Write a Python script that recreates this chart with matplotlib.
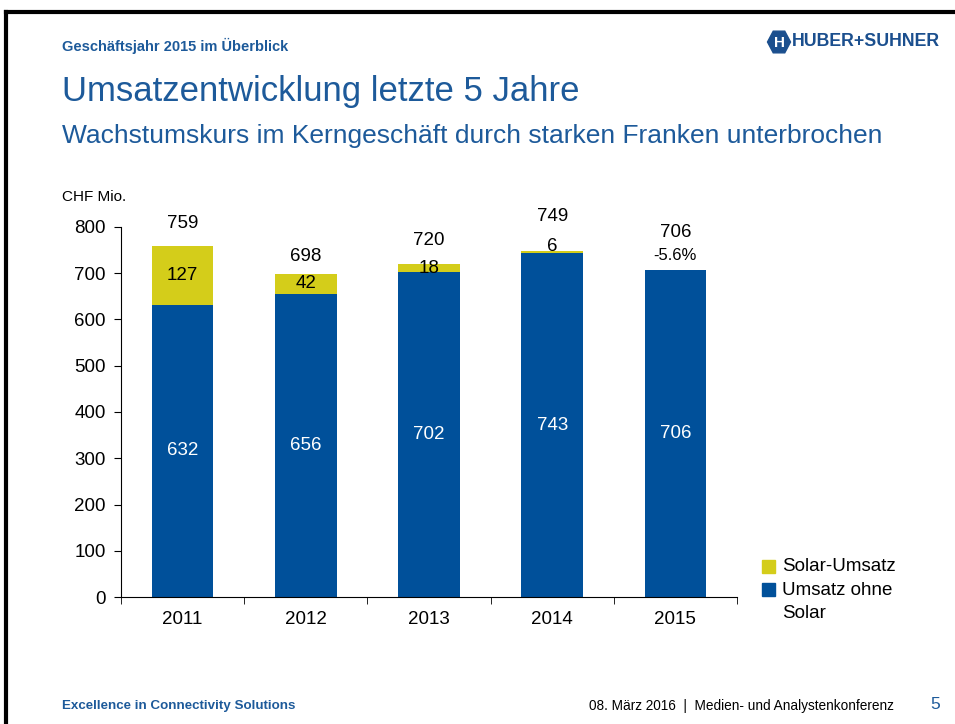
import matplotlib
matplotlib.use("Agg")
import matplotlib.pyplot as plt
from matplotlib.patches import Rectangle, Polygon
from matplotlib.lines import Line2D
import numpy as np

plt.rcParams['font.family'] = ['Liberation Sans', 'DejaVu Sans']

years = ["2011", "2012", "2013", "2014", "2015"]
core = [632, 656, 702, 743, 706]
solar = [127, 42, 18, 6, 0]
totals = [759, 698, 720, 749, 706]
change_2015 = "-5.6%"
yticks = [0, 100, 200, 300, 400, 500, 600, 700, 800]

BLUE = "#00509a"
YELLOW = "#d4cd1a"
TBLUE = "#1d5a9a"
LBLUE = "#1b4f8e"
FS = 13.5

W, H = 955, 724
fig = plt.figure(figsize=(W / 100, H / 100), dpi=100)

# slide frame lines (top and left)
fig.add_artist(Line2D([0.0065, 1.0], [0.984, 0.984], color="black", lw=3, transform=fig.transFigure))
fig.add_artist(Line2D([0.0065, 0.0065], [0.0, 0.984], color="black", lw=3, transform=fig.transFigure))

ax = fig.add_axes([0.1267, 0.1754, 0.645, 0.5111])
x = np.arange(len(years))
ax.bar(x, core, width=0.5, color=BLUE, zorder=2)
ax.bar(x, solar, width=0.5, bottom=core, color=YELLOW, zorder=2)

ax.set_xlim(-0.5, len(years) - 0.5)
ax.set_ylim(0, 800)
ax.set_yticks(yticks)
ax.set_yticklabels([str(v) for v in yticks], fontsize=FS)
ax.set_xticks(x)
ax.set_xticklabels(years, fontsize=FS)
ax.tick_params(axis="x", which="major", length=0, pad=10)
ax.set_xticks(np.arange(-0.5, len(years)), minor=True)
ax.tick_params(axis="x", which="minor", length=5, direction="out")
ax.tick_params(axis="y", length=5, direction="out", pad=6)
for s in ["top", "right"]:
    ax.spines[s].set_visible(False)

total_pad = [49, 39, 50, 73, 81]
for i in range(len(years)):
    ax.text(x[i], core[i] / 2, str(core[i]), color="white", ha="center", va="center", fontsize=FS)
    if solar[i] > 0:
        ax.text(x[i], core[i] + solar[i] / 2 + (12 if solar[i] < 10 else 0), str(solar[i]),
                color="black", ha="center", va="center", fontsize=FS)
    ax.text(x[i], totals[i] + total_pad[i], str(totals[i]), color="black", ha="center", va="center", fontsize=FS)
ax.text(x[-1], totals[-1] + 33, change_2015, color="black", ha="center", va="center", fontsize=12)

# legend
fig.add_artist(Rectangle((0.798, 0.209), 0.0136, 0.018, color=YELLOW, transform=fig.transFigure))
fig.add_artist(Rectangle((0.798, 0.177), 0.0136, 0.018, color=BLUE, transform=fig.transFigure))
fig.text(0.819, 0.217, "Solar-Umsatz", fontsize=FS, va="center")
fig.text(0.819, 0.185, "Umsatz ohne", fontsize=FS, va="center")
fig.text(0.819, 0.152, "Solar", fontsize=FS, va="center")

fig.text(0.065, 0.728, "CHF Mio.", fontsize=11, va="center")

# headers
fig.text(0.065, 0.937, "Geschäftsjahr 2015 im Überblick", fontsize=10.5, fontweight="bold",
         color=TBLUE, va="center")
fig.text(0.065, 0.874, "Umsatzentwicklung letzte 5 Jahre", fontsize=25, color=TBLUE, va="center")
fig.text(0.065, 0.812, "Wachstumskurs im Kerngeschäft durch starken Franken unterbrochen", fontsize=19,
         color=TBLUE, va="center")

# logo
cx, cy = 779 / W, 1 - 42 / H
ang = np.arange(6) * np.pi / 3
hexv = np.column_stack([cx + 11.5 / W * np.cos(ang), cy + 12.5 / H * np.sin(ang)])
fig.add_artist(Polygon(hexv, closed=True, color=LBLUE, transform=fig.transFigure))
fig.text(cx, cy - 0.001, "H", fontsize=11, fontweight="bold", color="white", ha="center", va="center")
fig.text(792 / W, cy, "HUBER+SUHNER", fontsize=12.8, fontweight="bold", color=LBLUE, va="center")

# footer
fig.text(0.065, 0.025, "Excellence in Connectivity Solutions", fontsize=9.6, fontweight="bold",
         color=TBLUE, va="center")
fig.text(0.936, 0.025, "08. März 2016  |  Medien- und Analystenkonferenz", fontsize=9.8, color="black",
         va="center", ha="right")
fig.text(0.979, 0.027, "5", fontsize=12.5, color=TBLUE, va="center", ha="center")

fig.savefig("out.png", dpi=100)
